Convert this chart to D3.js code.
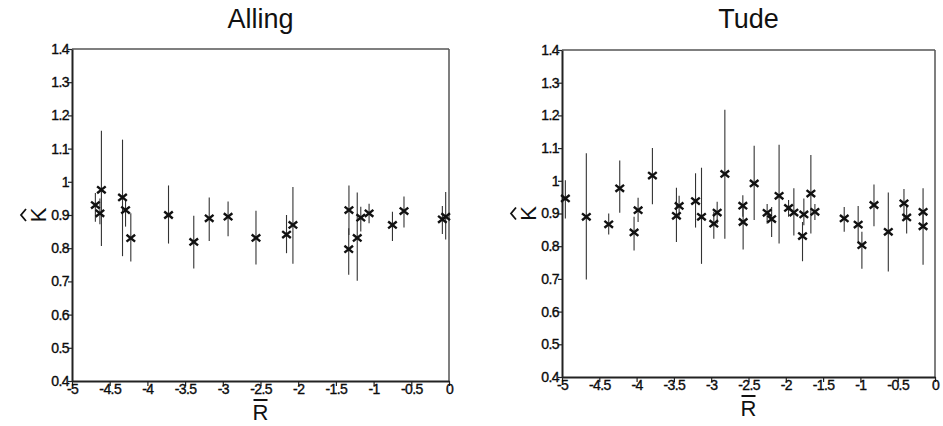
<!DOCTYPE html>
<html><head><meta charset="utf-8">
<script src="https://cdn.jsdelivr.net/npm/d3@7"></script>
<style>body{margin:0;background:#fff}svg{display:block}text{font-family:"Liberation Sans",Arial,sans-serif;fill:#111}</style>
</head><body><svg id="c" width="943" height="426"></svg>
<script>
const panelTitles = ["Alling", "Tude"];
const xTicks = [-5, -4.5, -4, -3.5, -3, -2.5, -2, -1.5, -1, -0.5, 0];
const yTicks = [0.4, 0.5, 0.6, 0.7, 0.8, 0.9, 1, 1.1, 1.2, 1.3, 1.4];

// Alling
const allingR  = [-4.69,-4.63,-4.61,-4.33,-4.29,-4.22,-3.72,-3.385,-3.18,-2.93,-2.56,-2.155,-2.07,-1.327,-1.33,-1.217,-1.17,-1.06,-0.75,-0.597,-0.088,-0.044];
const allingK  = [0.930,0.905,0.976,0.953,0.915,0.830,0.900,0.819,0.890,0.895,0.831,0.841,0.870,0.915,0.797,0.831,0.892,0.905,0.870,0.912,0.887,0.895];
const allingHi = [0.966,0.950,1.154,1.127,0.945,0.905,0.989,0.898,0.953,0.941,0.913,0.900,0.984,0.989,0.860,0.968,0.925,0.934,0.910,0.956,0.927,0.969];
const allingLo = [0.880,0.872,0.807,0.776,0.865,0.760,0.814,0.739,0.822,0.836,0.751,0.785,0.753,0.840,0.720,0.702,0.850,0.875,0.822,0.862,0.843,0.826];

// Tude
const tudeR  = [-4.955,-4.674,-4.374,-4.226,-4.034,-3.98,-3.788,-3.466,-3.43,-3.21,-3.13,-2.965,-2.92,-2.817,-2.576,-2.572,-2.424,-2.25,-2.19,-2.09,-1.963,-1.892,-1.776,-1.758,-1.664,-1.61,-1.217,-1.03,-0.98,-0.818,-0.626,-0.416,-0.38,-0.16,-0.16];
const tudeK  = [0.946,0.890,0.867,0.977,0.842,0.910,1.016,0.893,0.923,0.938,0.890,0.869,0.903,1.021,0.924,0.874,0.992,0.902,0.883,0.954,0.917,0.903,0.831,0.897,0.961,0.905,0.885,0.866,0.803,0.926,0.844,0.931,0.888,0.905,0.861];
const tudeHi = [1.002,1.084,0.900,1.062,0.890,0.948,1.100,0.979,0.954,1.023,1.040,0.905,0.936,1.217,0.956,0.926,1.107,0.929,0.920,1.110,0.941,0.977,0.874,0.946,1.079,0.929,0.920,0.923,0.844,0.989,0.964,0.975,0.926,0.977,0.905];
const tudeLo = [0.885,0.698,0.836,0.902,0.787,0.874,0.928,0.813,0.890,0.857,0.746,0.823,0.869,0.823,0.890,0.790,0.880,0.869,0.828,0.808,0.890,0.833,0.754,0.864,0.839,0.880,0.844,0.813,0.731,0.861,0.723,0.882,0.839,0.854,0.743];

const panels = [
  {title: panelTitles[0], R: allingR, K: allingK, hi: allingHi, lo: allingLo, x0: 72, x1: 449, y0: 49, y1: 381},
  {title: panelTitles[1], R: tudeR, K: tudeK, hi: tudeHi, lo: tudeLo, x0: 562, x1: 935, y0: 50, y1: 377}
];

const svg = d3.select("#c");
panels.forEach(p => {
  const x = d3.scaleLinear().domain([-5, 0]).range([p.x0, p.x1]);
  const y = d3.scaleLinear().domain([0.4, 1.4]).range([p.y1, p.y0]);
  const g = svg.append("g");
  g.append("line").attr("x1", p.x0).attr("x2", p.x1).attr("y1", p.y0).attr("y2", p.y0).attr("stroke", "#555").attr("stroke-width", 1.5);
  g.append("line").attr("x1", p.x1).attr("x2", p.x1).attr("y1", p.y0).attr("y2", p.y1).attr("stroke", "#555").attr("stroke-width", 1.5);
  const fmt = d => String(d);
  const xa = g.append("g").attr("transform", `translate(0,${p.y1})`).call(d3.axisBottom(x).tickValues(xTicks).tickFormat(fmt).tickSize(5).tickSizeOuter(0));
  const ya = g.append("g").attr("transform", `translate(${p.x0},0)`).call(d3.axisLeft(y).tickValues(yTicks).tickFormat(fmt).tickSize(4).tickSizeOuter(0));
  [xa, ya].forEach(a => {
    a.attr("font-size", 14).attr("font-family", "Liberation Sans, Arial, sans-serif");
    a.select(".domain").attr("stroke", "#222").attr("stroke-width", 2);
    a.selectAll(".tick line").attr("stroke", "#222").attr("stroke-width", 1.2);
    a.selectAll(".tick text").attr("fill", "#000").attr("stroke", "#000").attr("stroke-width", 0.35)
      .style("font-size", "14px").style("letter-spacing", "-0.6px");
  });
  xa.selectAll(".tick text").attr("dy", "0.55em").attr("y", 5);
  ya.selectAll(".tick text").attr("x", -3);
  g.append("text").attr("x", (p.x0 + p.x1) / 2).attr("y", 28).attr("text-anchor", "middle").attr("font-size", 27).text(p.title);
  const xl = (p.x0 + p.x1) / 2;
  g.append("text").attr("x", xl).attr("y", p.y1 + 39).attr("text-anchor", "middle").attr("font-size", 22).text("R");
  g.append("line").attr("x1", xl - 7).attr("x2", xl + 7).attr("y1", p.y1 + 19).attr("y2", p.y1 + 19).attr("stroke", "#111").attr("stroke-width", 2);
  const yl = g.append("g").attr("transform", `translate(${p.x0 - 34},${y(0.9)}) rotate(-90)`);
  yl.append("text").attr("x", 0).attr("y", 0).attr("text-anchor", "middle").attr("dy", "0.35em").attr("font-size", 22).text("K");
  yl.append("path").attr("d", "M-6,-12 L0,-17 L6,-12").attr("fill", "none").attr("stroke", "#111").attr("stroke-width", 1.8);
  g.selectAll(".eb").data(p.R).join("line")
    .attr("x1", (d) => x(d)).attr("x2", (d) => x(d))
    .attr("y1", (d, i) => y(p.hi[i])).attr("y2", (d, i) => y(p.lo[i]))
    .attr("stroke", "#333").attr("stroke-width", 1.1);
  const s = 4.3;
  g.selectAll(".mk").data(p.R).join("path")
    .attr("transform", (d, i) => `translate(${x(d)},${y(p.K[i])})`)
    .attr("d", `M${-s},${-s * 0.8}L${s},${s * 0.8}M${-s},${s * 0.8}L${s},${-s * 0.8}`)
    .attr("stroke", "#111").attr("stroke-width", 2.4).attr("fill", "none");
});
</script></body></html>
